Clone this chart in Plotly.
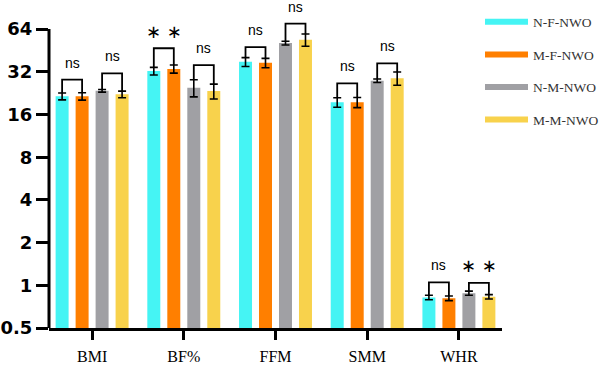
import math
import plotly.graph_objects as go

categories = ["BMI", "BF%", "FFM", "SMM", "WHR"]
series_names = ["N-F-NWO", "M-F-NWO", "N-M-NWO", "M-M-NWO"]
colors = ["#45F4F4", "#FF7F00", "#A0A0A4", "#F8D24C"]

n_f_nwo = [21.5, 32.4, 37.6, 19.5, 0.82]
m_f_nwo = [21.5, 33.5, 37.0, 19.5, 0.81]
n_m_nwo = [23.5, 24.7, 51.0, 27.7, 0.88]
m_m_nwo = [22.2, 23.4, 53.8, 28.8, 0.83]

n_f_err = [1.2, 2.0, 2.7, 1.5, 0.03]
m_f_err = [1.3, 2.2, 2.8, 1.6, 0.03]
n_m_err = [0.5, 3.4, 1.5, 0.8, 0.03]
m_m_err = [1.2, 2.8, 5.3, 3.1, 0.03]

# significance brackets: (category index, first bar, second bar, bracket height, label)
bracket_cat = [0, 0, 1, 1, 2, 2, 3, 3, 4, 4]
bracket_pair = [(0, 1), (2, 3), (0, 1), (2, 3), (0, 1), (2, 3), (0, 1), (2, 3), (0, 1), (2, 3)]
bracket_height = [28.2, 31.2, 46.9, 35.7, 47.7, 70.0, 26.5, 36.7, 1.05, 1.04]
bracket_label = ["ns", "ns", "∗ ∗", "ns", "ns", "ns", "ns", "ns", "ns", "∗ ∗"]

y_ticks = [0.5, 1, 2, 4, 8, 16, 32, 64]

values = [n_f_nwo, m_f_nwo, n_m_nwo, m_m_nwo]
errors = [n_f_err, m_f_err, n_m_err, m_m_err]

bargap = 0.128
slot = (1 - bargap) / 4
xpos = list(range(len(categories)))

# plot area extends to the top of the figure so brackets above 64 are not clipped
H, B = 366, 38
px_per_doubling = 42.7
y_lo = 0.5
y_hi = y_lo * 2 ** ((H - B) / px_per_doubling)

fig = go.Figure()
for name, col, vals, errs in zip(series_names, colors, values, errors):
    fig.add_trace(go.Bar(
        x=xpos, y=vals, name=name, marker=dict(color=col, line=dict(width=0)),
        error_y=dict(type="data", array=errs, color="black", thickness=1.6, width=4),
        showlegend=False,
    ))

# legend entries as wide flat swatches
for i, (name, col) in enumerate(zip(series_names, colors)):
    fig.add_trace(go.Scatter(
        x=[None], y=[None], mode="lines", name=name,
        line=dict(color=col, width=6), legendgroup=f"g{i}", showlegend=True,
    ))

annotations = []
for ci, (a, b), h, lab in zip(bracket_cat, bracket_pair, bracket_height, bracket_label):
    xa = ci + (a - 1.5) * slot
    xb = ci + (b - 1.5) * slot
    ya = values[a][ci] + errors[a][ci]
    yb = values[b][ci] + errors[b][ci]
    fig.add_trace(go.Scatter(
        x=[xa, xa, xb, xb], y=[ya, h, h, yb], mode="lines",
        line=dict(color="black", width=1.8), showlegend=False, hoverinfo="skip",
    ))
    is_star = "∗" in lab
    annotations.append(dict(
        x=(xa + xb) / 2, y=math.log10(h), xref="x", yref="y",
        text=lab, showarrow=False, yanchor="middle", yshift=17,
        font=dict(family="DejaVu Sans" if is_star else "Liberation Sans, Arial",
                  size=18 if is_star else 14, color="black"),
    ))

fig.update_layout(
    width=600, height=366,
    margin=dict(l=49, r=98, t=0, b=B, autoexpand=False),
    paper_bgcolor="white", plot_bgcolor="white",
    barmode="group", bargap=bargap, bargroupgap=0.35,
    annotations=annotations,
    shapes=[dict(type="line", xref="paper", yref="y", x0=0, x1=0, y0=y_lo, y1=64,
                 line=dict(color="black", width=3))],
    legend=dict(
        x=0.8, y=0.982, xref="container", yref="container", xanchor="left", yanchor="top",
        font=dict(family="Liberation Serif, Times New Roman, serif", size=13.5, color="#333"),
        tracegroupgap=12, bgcolor="rgba(0,0,0,0)", itemwidth=43,
    ),
    xaxis=dict(
        range=[-0.47, 4.47], tickmode="array", tickvals=xpos, ticktext=categories,
        showline=True, linecolor="black", linewidth=3, ticks="outside", ticklen=9,
        tickwidth=3, tickcolor="black", showgrid=False, zeroline=False,
        ticklabelstandoff=3,
        tickfont=dict(family="Liberation Serif, Times New Roman, serif", size=16, color="black"),
    ),
    yaxis=dict(
        type="log", range=[math.log10(y_lo), math.log10(y_hi)], tickmode="array",
        tickvals=y_ticks, ticktext=[str(t) for t in y_ticks],
        showline=False, ticks="outside", ticklen=12,
        tickwidth=3, tickcolor="black", showgrid=False, zeroline=False,
        tickfont=dict(family="DejaVu Sans", size=18, color="black", weight="bold"),
    ),
)

fig.write_html("out.html", config={"displayModeBar": False},
               post_script="document.body.style.margin='0';")
